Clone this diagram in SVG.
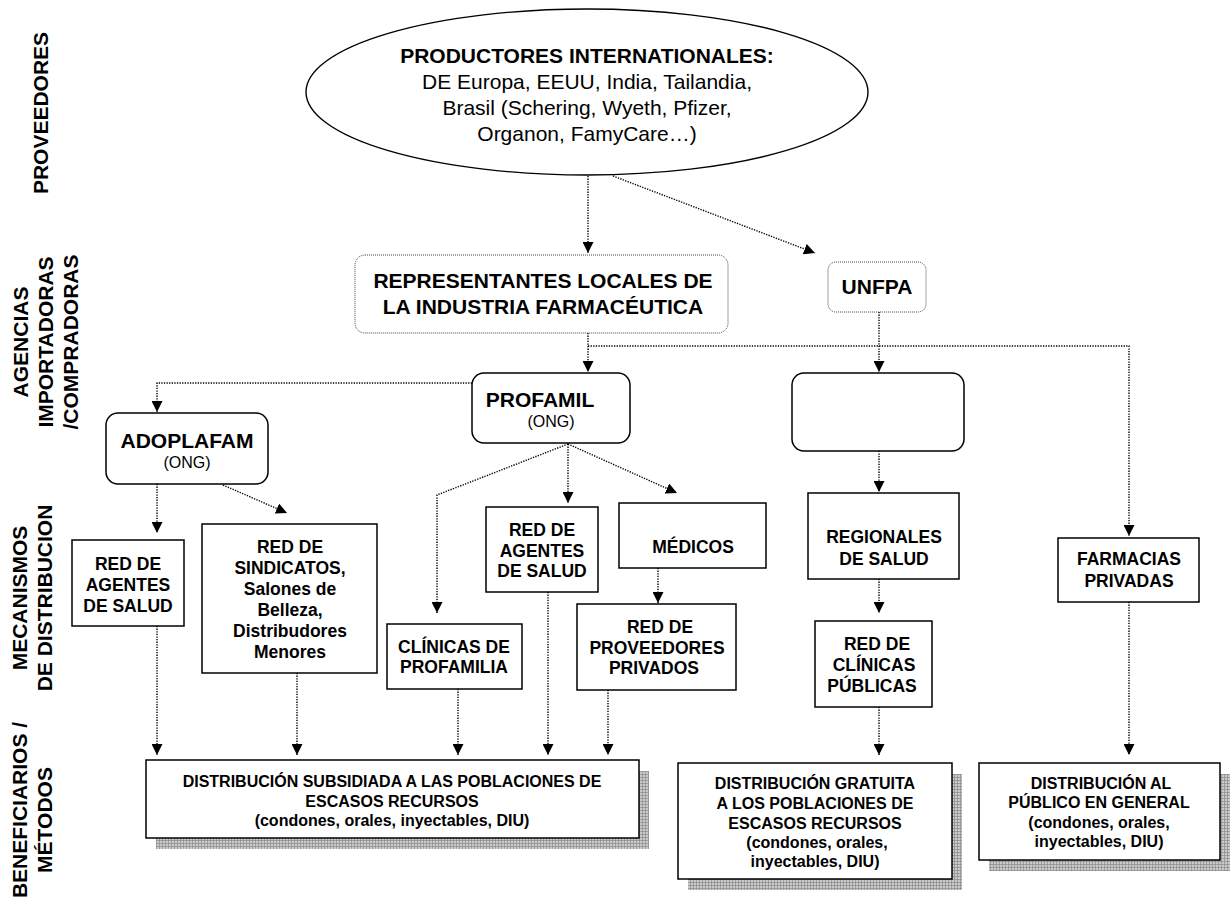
<svg xmlns="http://www.w3.org/2000/svg" width="1230" height="904" viewBox="0 0 1230 904">
<style>
text{font-family:"Liberation Sans",Arial,Helvetica,sans-serif;fill:#000}
.side{font-size:21px;font-weight:bold;text-anchor:middle}
.big{font-size:21px;font-weight:bold;text-anchor:middle}
.reg{font-size:21px;text-anchor:middle}
.ong{font-size:16px;text-anchor:middle}
.box{font-size:17.5px;font-weight:bold;text-anchor:middle}
.out{font-size:16px;font-weight:bold;text-anchor:middle}
.solid{fill:#fff;stroke:#000;stroke-width:1.5}
.dotbox{fill:#fff;stroke:#444;stroke-width:1;stroke-dasharray:1 1}
.conn{fill:none;stroke:#000;stroke-width:1.4;stroke-dasharray:1.3 1.3;marker-end:url(#arr)}
.shadow{fill:url(#grid)}
</style>
<defs>
<marker id="arr" markerUnits="userSpaceOnUse" markerWidth="11" markerHeight="11" viewBox="0 0 10 10" refX="10" refY="5" orient="auto">
<path d="M0,0 L10,5 L0,10 z" fill="#000"/>
</marker>
<pattern id="grid" patternUnits="userSpaceOnUse" width="3" height="3">
<rect width="3" height="3" fill="#cbcbcb"/>
<path d="M0,0.4H3M0.4,0V3" stroke="#8a8a8a" stroke-width="0.8"/>
</pattern>
</defs>
<rect width="1230" height="904" fill="#fff"/>

<g id="side-labels">
<text class="side" transform="translate(48,113) rotate(-90)">PROVEEDORES</text>
<text class="side" transform="translate(28,342) rotate(-90)">AGENCIAS</text>
<text class="side" transform="translate(53,342) rotate(-90)">IMPORTADORAS</text>
<text class="side" transform="translate(78,342) rotate(-90)">/COMPRADORAS</text>
<text class="side" transform="translate(27,598) rotate(-90)">MECANISMOS</text>
<text class="side" transform="translate(52,598) rotate(-90)">DE DISTRIBUCION</text>
<text class="side" transform="translate(27,810) rotate(-90)">BENEFICIARIOS /</text>
<text class="side" transform="translate(52,820) rotate(-90)">MÉTODOS</text>
</g>

<g id="connectors">
<path class="conn" d="M588,176 V253"/>
<path class="conn" d="M613,176 L815,253"/>
<path class="conn" d="M588,333 V372"/>
<path class="conn" d="M588,346 H1129 V536"/>
<path class="conn" d="M879,312 V372"/>
<path class="conn" d="M472,383 H157 V412"/>
<path class="conn" d="M879,443 V492"/>
<path class="conn" d="M879,579 V613"/>
<path class="conn" d="M879,707 V755"/>
<path class="conn" d="M1129,602 V755"/>
<path class="conn" d="M157,484 V533"/>
<path class="conn" d="M223,485 L287,513"/>
<path class="conn" d="M568,444 L437,495 V613"/>
<path class="conn" d="M568,444 V503"/>
<path class="conn" d="M568,444 L677,493"/>
<path class="conn" d="M658,568 V603"/>
<path class="conn" d="M157,626 V755"/>
<path class="conn" d="M297,673 V755"/>
<path class="conn" d="M458,689 V755"/>
<path class="conn" d="M548,592 V755"/>
<path class="conn" d="M608,690 V755"/>
</g>

<g id="productores">
<ellipse cx="587" cy="92" rx="281" ry="83" fill="#fff" stroke="#000" stroke-width="1.4"/>
<text class="big" x="587" y="63">PRODUCTORES INTERNATIONALES:</text>
<text class="reg" x="587" y="89">DE Europa, EEUU, India, Tailandia,</text>
<text class="reg" x="587" y="115">Brasil (Schering, Wyeth, Pfizer,</text>
<text class="reg" x="587" y="141">Organon, FamyCare…)</text>
</g>

<g id="representantes">
<rect class="dotbox" x="355" y="255" width="373" height="78" rx="10"/>
<text class="big" x="543" y="288">REPRESENTANTES LOCALES DE</text>
<text class="big" x="543" y="314">LA INDUSTRIA FARMACÉUTICA</text>
</g>

<g id="unfpa">
<rect class="dotbox" x="828" y="262" width="98" height="50" rx="8"/>
<text class="big" x="877" y="294">UNFPA</text>
</g>

<g id="adoplafam">
<rect class="solid" x="106" y="413" width="162" height="71" rx="12"/>
<text class="big" x="187" y="448">ADOPLAFAM</text>
<text class="ong" x="187" y="468">(ONG)</text>
</g>

<g id="profamil">
<rect class="solid" x="472" y="373" width="158" height="70" rx="12"/>
<text class="big" x="540" y="407">PROFAMIL</text>
<text class="ong" x="551" y="427">(ONG)</text>
</g>

<g id="empty-box">
<rect class="solid" x="792" y="373" width="172" height="78" rx="12"/>
</g>

<g id="red-agentes-1">
<rect class="solid" x="72" y="540" width="112" height="86"/>
<text class="box" x="128" y="570">RED DE</text>
<text class="box" x="128" y="591">AGENTES</text>
<text class="box" x="128" y="612">DE SALUD</text>
</g>

<g id="sindicatos">
<rect class="solid" x="202" y="524" width="175" height="149"/>
<text class="box" x="290" y="553">RED DE</text>
<text class="box" x="290" y="574">SINDICATOS,</text>
<text class="box" x="290" y="595">Salones de</text>
<text class="box" x="290" y="616">Belleza,</text>
<text class="box" x="290" y="637">Distribudores</text>
<text class="box" x="290" y="658">Menores</text>
</g>

<g id="clinicas-profamilia">
<rect class="solid" x="387" y="624" width="135" height="65"/>
<text class="box" x="454" y="653">CLÍNICAS DE</text>
<text class="box" x="454" y="673">PROFAMILIA</text>
</g>

<g id="red-agentes-2">
<rect class="solid" x="486" y="507" width="112" height="85"/>
<text class="box" x="542" y="536">RED DE</text>
<text class="box" x="542" y="557">AGENTES</text>
<text class="box" x="542" y="577">DE SALUD</text>
</g>

<g id="medicos">
<rect class="solid" x="619" y="503" width="147" height="65"/>
<text class="box" x="693" y="553">MÉDICOS</text>
</g>

<g id="proveedores-privados">
<rect class="solid" x="577" y="604" width="159" height="86"/>
<text class="box" x="660" y="633">RED DE</text>
<text class="box" x="657" y="654">PROVEEDORES</text>
<text class="box" x="654" y="674">PRIVADOS</text>
</g>

<g id="regionales">
<rect class="solid" x="808" y="493" width="151" height="86"/>
<text class="box" x="884" y="543">REGIONALES</text>
<text class="box" x="884" y="565">DE SALUD</text>
</g>

<g id="clinicas-publicas">
<rect class="solid" x="815" y="621" width="117" height="86"/>
<text class="box" x="877" y="650">RED DE</text>
<text class="box" x="874" y="671">CLÍNICAS</text>
<text class="box" x="872" y="692">PÚBLICAS</text>
</g>

<g id="farmacias">
<rect class="solid" x="1058" y="538" width="141" height="64"/>
<text class="box" x="1129" y="565">FARMACIAS</text>
<text class="box" x="1129" y="587">PRIVADAS</text>
</g>

<g id="subsidiada">
<rect class="shadow" x="156" y="771" width="493" height="78"/>
<rect class="solid" x="146" y="760" width="493" height="78"/>
<text class="out" x="392" y="787">DISTRIBUCIÓN SUBSIDIADA A LAS POBLACIONES DE</text>
<text class="out" x="392" y="807">ESCASOS RECURSOS</text>
<text class="out" x="392" y="826">(condones, orales, inyectables, DIU)</text>
</g>

<g id="gratuita">
<rect class="shadow" x="688" y="774" width="274" height="116"/>
<rect class="solid" x="678" y="763" width="274" height="116"/>
<text class="out" x="815" y="789">DISTRIBUCIÓN GRATUITA</text>
<text class="out" x="815" y="809">A LOS POBLACIONES DE</text>
<text class="out" x="815" y="829">ESCASOS RECURSOS</text>
<text class="out" x="817" y="848">(condones, orales,</text>
<text class="out" x="815" y="867">inyectables, DIU)</text>
</g>

<g id="publico">
<rect class="shadow" x="989" y="774" width="241" height="97"/>
<rect class="solid" x="979" y="763" width="241" height="97"/>
<text class="out" x="1101" y="789">DISTRIBUCIÓN AL</text>
<text class="out" x="1099" y="808">PÚBLICO EN GENERAL</text>
<text class="out" x="1099" y="828">(condones, orales,</text>
<text class="out" x="1099" y="847">inyectables, DIU)</text>
</g>
</svg>
